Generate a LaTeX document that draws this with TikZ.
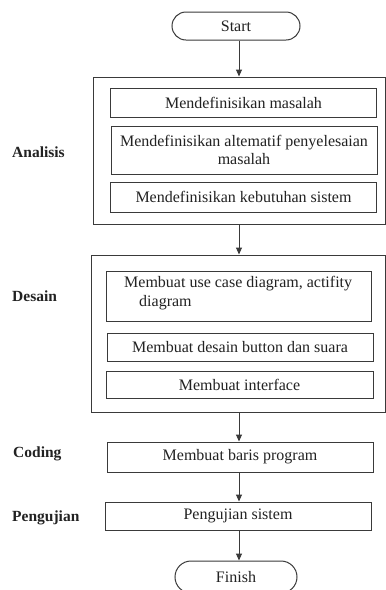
\documentclass[tikz,border=0pt]{standalone}
\usepackage{fontspec}
\setmainfont{Liberation Serif}
\usetikzlibrary{arrows.meta}
\definecolor{ln}{HTML}{3A3A3A}
\definecolor{tx}{HTML}{222222}
\begin{document}
\begin{tikzpicture}[x=1pt,y=-1pt,
  every node/.style={text=tx},
  txt/.style={font=\fontsize{16}{19}\selectfont},
  lbl/.style={font=\bfseries\fontsize{15.5}{18}\selectfont,anchor=west,inner sep=0},
  grp/.style={draw=ln,line width=1pt,minimum width=#1,inner sep=0},
  stepbox/.style={draw=ln,line width=1pt,minimum width=266pt,inner sep=0,txt,align=center},
  term/.style={draw=ln,line width=1pt,rounded corners=14pt,minimum height=28pt,inner sep=0,txt},
  arr/.style={draw=ln,line width=1pt,-{Triangle[width=6pt,length=7pt]}}]
\useasboundingbox (0,0) rectangle (386,590);
\fill[white] (0,0) rectangle (386,590);
\coordinate (spine) at (239,0);
% terminators
\node[term,minimum width=128pt] (start) at (236,26) {Start};
\node[term,minimum width=122pt,minimum height=32pt,rounded corners=16pt] (finish) at (236,577) {Finish};
% Analisis group
\node[grp=292pt,minimum height=147pt] (ana) at (239,150.5) {};
\node[stepbox,minimum height=29pt] (a1) at (243.5,102.5) {Mendefinisikan masalah};
\node[stepbox,minimum height=48pt] (a2) at (244,150) {Mendefinisikan altematif penyelesaian\\[-1pt]masalah};
\node[stepbox,minimum height=30pt] (a3) at (243.5,197) {Mendefinisikan kebutuhan sistem};
% Desain group
\node[grp=294pt,minimum height=157pt] (des) at (238,333.5) {};
\node[stepbox,minimum width=265pt,minimum height=50pt] (d1) at (238.5,296) {};
\node[txt,anchor=north west,inner sep=0,align=left] (d1t) at (124,276) {Membuat use case diagram, actifity\\\hspace{15pt}diagram};
\node[stepbox,minimum height=28pt] (d2) at (240,347) {Membuat desain button dan suara};
\node[stepbox,minimum width=267pt,minimum height=27pt] (d3) at (239.5,384.5) {Membuat interface};
% Coding, Pengujian
\node[stepbox,minimum height=30pt] (cod) at (240,457) {Membuat baris program};
\node[stepbox,minimum height=28pt] (uji) at (238,516) {Pengujian sistem};
% labels
\node[lbl] (lana) at (12,152) {Analisis};
\node[lbl] (ldes) at (12,296) {Desain};
\node[lbl] (lcod) at (13,454) {Coding};
\node[lbl] (luji) at (12,518) {Pengujian};
% arrows
\draw[arr] (start.south -| spine) -- (ana.north -| spine);
\draw[arr] (ana.south -| spine) -- (des.north -| spine);
\draw[arr] (des.south -| spine) -- (cod.north -| spine);
\draw[arr] (cod.south -| spine) -- (uji.north -| spine);
\draw[arr] (uji.south -| spine) -- (finish.north -| spine);
\end{tikzpicture}
\end{document}
